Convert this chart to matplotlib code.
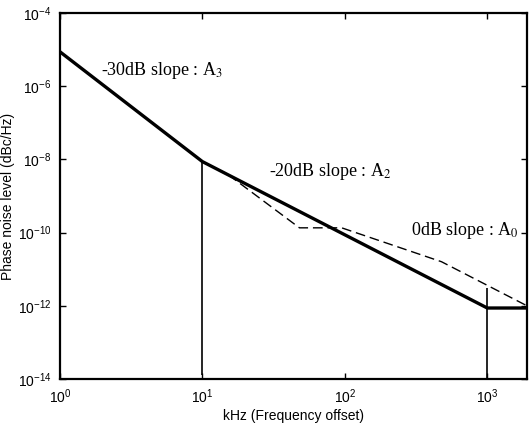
import matplotlib
matplotlib.use('Agg')
import matplotlib.pyplot as plt
import numpy as np

# asymptotic phase noise model (thick solid)
model_f = [1, 10, 1000, 1900]
model_L = [8.7e-6, 8.7e-9, 8.7e-13, 8.7e-13]

# measured phase noise (dashed)
meas_f = [10, 15.5, 48, 95, 477, 1900]
meas_L = [8.7e-9, 3.6e-9, 1.35e-10, 1.35e-10, 1.6e-11, 1.0e-12]

# corner markers (thin vertical lines)
corner_f = [10, 1000]
corner_lo = [1.3e-14, 1.0e-14]
corner_hi = [8.7e-9, 3.1e-12]

fig = plt.figure(figsize=(5.29, 4.32), dpi=100)
ax = fig.add_axes([0.1134, 0.1227, 0.8828, 0.8472])

ax.plot(model_f, model_L, c='black', linewidth=2.4, solid_capstyle='butt')
ax.plot(meas_f, meas_L, c='black', linewidth=1.0, linestyle=(0, (7, 3.5)))
ax.vlines(corner_f, corner_lo, corner_hi, colors='black', linewidth=1.2)

ax.set_xscale('log')
ax.set_yscale('log')
ax.set_xlim(1, 1900)
ax.set_ylim(1e-14, 1e-4)
ax.set_xticks([1, 10, 100, 1000])
ax.set_yticks([1e-14, 1e-12, 1e-10, 1e-8, 1e-6, 1e-4])
ax.minorticks_off()
ax.tick_params(direction='in', top=True, right=True, length=4, width=1,
               labelsize=10, pad=6)
for lab in ax.get_xticklabels() + ax.get_yticklabels():
    lab.set_family('Liberation Sans')
for s in ax.spines.values():
    s.set_linewidth(1.6)

ax.set_xlabel('kHz (Frequency offset)', family='Liberation Sans', fontsize=10, labelpad=2)
ax.set_ylabel('Phase noise level (dBc/Hz)', family='Liberation Sans', fontsize=10, labelpad=2)

serif = 'Liberation Serif'
ax.text(1.94, 2.75e-6, r'-30dB slope : A$_3$', family=serif, fontsize=13,
        ha='left', va='center', math_fontfamily='stix')
ax.text(29.4, 4.6e-9, r'-20dB slope : A$_2$', family=serif, fontsize=13,
        ha='left', va='center', math_fontfamily='stix')
ax.text(290, 1.17e-10, r'0dB slope : A$_0$', family=serif, fontsize=13,
        ha='left', va='center', math_fontfamily='stix')

fig.savefig('out.png', dpi=100)
